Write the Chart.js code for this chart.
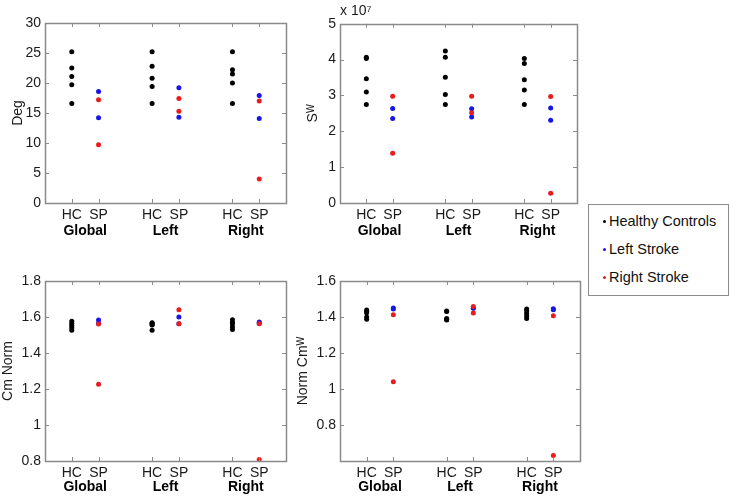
<!DOCTYPE html>
<html>
<head>
<meta charset="utf-8">
<script src="https://cdn.jsdelivr.net/npm/chart.js@4.4.0/dist/chart.umd.min.js"></script>
<style>
  body { margin: 0; background: #fff; width: 733px; height: 500px; position: relative; overflow: hidden; font-family: "Liberation Sans", Arial, sans-serif; }
  canvas { position: absolute; }
  #legend { position: absolute; left: 588px; top: 204px; width: 139px; height: 88px; border: 1px solid #8c8c8c; background: #fff; padding-top: 2px; box-sizing: content-box; }
  #legend div { height: 28px; line-height: 28px; font-size: 14.5px; color: #111; position: relative; padding-left: 20px; white-space: nowrap; }
  #legend span { position: absolute; left: 14px; top: 13px; width: 3px; height: 3px; border-radius: 50%; }
</style>
</head>
<body>
<canvas id="c1" width="290" height="245" style="left:0px;top:0px"></canvas>
<canvas id="c2" width="291" height="245" style="left:290px;top:0px"></canvas>
<canvas id="c3" width="290" height="252" style="left:0px;top:248px"></canvas>
<canvas id="c4" width="294" height="252" style="left:290px;top:248px"></canvas>
<div id="legend"></div>
<script>
// categories
const groupNames = ['Global', 'Left', 'Right'];
const subNames = ['HC', 'SP'];
const subPos = [1, 2, 4, 5, 7, 8];
const groupPos = [1.5, 4.5, 7.5];

const seriesNames = ['Healthy Controls', 'Left Stroke', 'Right Stroke'];
const seriesColors = ['#000000', '#1616e8', '#e81c1c'];

// Deg (per group: Global, Left, Right)
const degHC = [[25.2, 22.5, 21.1, 19.7, 16.6], [25.2, 22.8, 20.8, 19.4, 16.6], [25.2, 22.2, 21.5, 20.0, 16.6]];
const degLS = [[18.6, 14.2], [19.2, 14.3], [17.9, 14.1]];
const degRS = [[17.2, 9.7], [17.4, 15.3], [17.0, 4.0]];

// S^W (x 10^7)
const swHC = [[4.07, 4.03, 3.47, 3.10, 2.75], [4.24, 4.07, 3.51, 3.03, 2.75], [4.03, 3.89, 3.44, 3.15, 2.75]];
const swLS = [[2.64, 2.36], [2.63, 2.40], [2.65, 2.31]];
const swRS = [[2.98, 1.39], [2.98, 2.52], [2.97, 0.27]];

// Cm Norm
const cmHC = [[1.577, 1.564, 1.553, 1.540, 1.527], [1.568, 1.565, 1.558, 1.555, 1.527], [1.585, 1.570, 1.564, 1.546, 1.531]];
const cmLS = [[1.583, 1.565], [1.600, 1.562], [1.572, 1.565]];
const cmRS = [[1.561, 1.227], [1.640, 1.562], [1.562, 0.809]];

// Norm Cm^W
const ncHC = [[1.439, 1.430, 1.424, 1.400, 1.388], [1.433, 1.430, 1.392, 1.388, 1.383], [1.444, 1.433, 1.420, 1.405, 1.392]];
const ncLS = [[1.450, 1.445], [1.448, 1.450], [1.446, 1.440]];
const ncRS = [[1.413, 1.040], [1.459, 1.422], [1.407, 0.630]];

const FONT = '"Liberation Sans", Arial, sans-serif';
const TXT = '#1a1a1a';
const AXC = '#8a8a8a';

// matlab style box with inward ticks
const boxPlugin = {
  id: 'box',
  afterDraw(chart) {
    const { ctx, chartArea: a } = chart;
    const x = chart.scales.x, y = chart.scales.y;
    ctx.save();
    ctx.strokeStyle = AXC;
    ctx.lineWidth = 1;
    ctx.beginPath();
    y.ticks.forEach(t => {
      const py = Math.round(y.getPixelForValue(t.value)) + 0.5;
      ctx.moveTo(a.left, py); ctx.lineTo(a.left + 4, py);
      ctx.moveTo(a.right, py); ctx.lineTo(a.right - 4, py);
    });
    x.ticks.forEach(t => {
      const px = Math.round(x.getPixelForValue(t.value)) + 0.5;
      ctx.moveTo(px, a.bottom); ctx.lineTo(px, a.bottom - 4);
      ctx.moveTo(px, a.top); ctx.lineTo(px, a.top + 4);
    });
    ctx.stroke();
    ctx.lineWidth = 1.5;
    ctx.strokeRect(Math.round(a.left) + 0.5, Math.round(a.top) + 0.5, Math.round(a.width), Math.round(a.height));
    ctx.restore();
  }
};

function pts(arr, offset) {
  const out = [];
  arr.forEach((vals, g) => vals.forEach(v => out.push({ x: subPos[2 * g + offset], y: v })));
  return out;
}

function makePanel(id, hc, ls, rs, p) {
  const sets = [hc, ls, rs];
  const offs = [0, 1, 1];
  const orders = [2, 1, 0];
  new Chart(document.getElementById(id), {
    type: 'scatter',
    data: {
      datasets: sets.map((s, i) => ({
        label: seriesNames[i],
        data: pts(s, offs[i]),
        backgroundColor: seriesColors[i],
        borderColor: seriesColors[i],
        pointRadius: 2.5,
        borderWidth: 0,
        order: orders[i],
        clip: false
      }))
    },
    options: {
      responsive: false,
      animation: false,
      layout: { padding: p.pad },
      plugins: {
        legend: { display: false },
        tooltip: { enabled: false },
        title: p.topTitle ? {
          display: true, text: p.topTitle, align: 'start', fullSize: false,
          color: TXT, font: { family: FONT, size: 14, weight: 'normal' },
          padding: { top: 3, bottom: 4 }
        } : { display: false }
      },
      scales: {
        x: {
          type: 'linear', min: 0, max: 9, weight: 0,
          grid: { display: false, drawTicks: false },
          border: { display: false },
          afterBuildTicks: ax => { ax.ticks = subPos.map(v => ({ value: v })); },
          afterFit: ax => { ax.height = p.xH; },
          ticks: {
            autoSkip: false, maxRotation: 0, padding: 4, color: TXT,
            font: { family: FONT, size: 14 },
            callback: (v, i) => subNames[i % 2]
          }
        },
        x2: {
          type: 'linear', position: 'bottom', min: 0, max: 9, weight: 1,
          grid: { display: false, drawTicks: false },
          border: { display: false },
          afterBuildTicks: ax => { ax.ticks = groupPos.map(v => ({ value: v })); },
          afterFit: ax => { ax.height = p.x2H; },
          ticks: {
            autoSkip: false, maxRotation: 0, padding: 0, color: '#000',
            font: { family: FONT, size: 14, weight: 'bold' },
            callback: (v, i) => groupNames[i]
          }
        },
        y: {
          min: p.min, max: p.max,
          grid: { display: false, drawTicks: false },
          border: { display: false },
          afterFit: ax => { ax.width = p.yW; },
          ticks: {
            stepSize: p.step, padding: 4, color: TXT,
            font: { family: FONT, size: 14 },
            callback: v => (p.hideBelow !== undefined && v < p.hideBelow) ? '' : String(Math.round(v * 10) / 10)
          },
          title: {
            display: true, text: p.yTitle, color: TXT,
            font: { family: FONT, size: 14 },
            padding: { top: p.tPad, bottom: 0 }
          }
        }
      }
    },
    plugins: [boxPlugin]
  });
}

makePanel('c1', degHC, degLS, degRS, { min: 0, max: 30, step: 5, yTitle: 'Deg', tPad: 10, yW: 45, xH: 20, x2H: 22, pad: { top: 23, right: 4, left: 0, bottom: 0 } });
makePanel('c2', swHC, swLS, swRS, { min: 0, max: 5, step: 1, yTitle: 'Sᵂ', tPad: 15, yW: 50, xH: 20, x2H: 22, topTitle: 'x 10⁷', pad: { top: 0, right: 4, left: 0, bottom: 0 } });
makePanel('c3', cmHC, cmLS, cmRS, { min: 0.8, max: 1.8, step: 0.2, yTitle: 'Cm Norm', tPad: 0, yW: 45, xH: 18, x2H: 21, pad: { top: 33, right: 4, left: 0, bottom: 0 } });
makePanel('c4', ncHC, ncLS, ncRS, { min: 0.6, max: 1.6, step: 0.2, hideBelow: 0.7, yTitle: 'Norm Cmᵂ', tPad: 5, yW: 50, xH: 18, x2H: 21, pad: { top: 33, right: 4, left: 0, bottom: 0 } });

// legend built from the series arrays
const lg = document.getElementById('legend');
seriesNames.forEach((n, i) => {
  const row = document.createElement('div');
  const dot = document.createElement('span');
  dot.style.background = seriesColors[i];
  row.appendChild(dot);
  row.appendChild(document.createTextNode(n));
  lg.appendChild(row);
});
</script>
</body>
</html>
